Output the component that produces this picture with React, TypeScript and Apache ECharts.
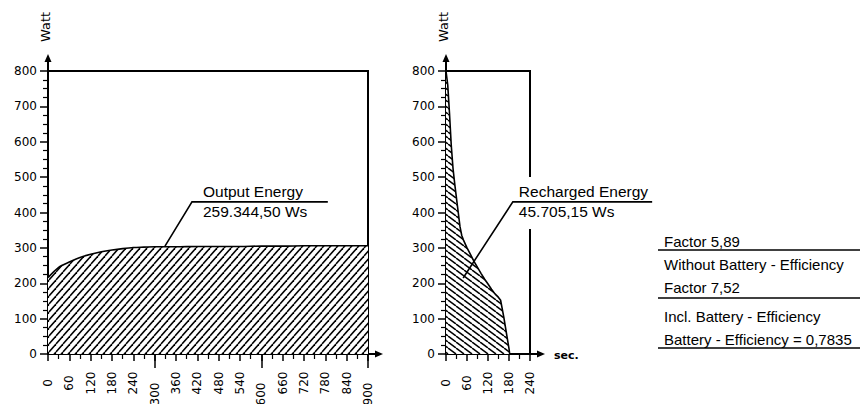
import React, { useEffect, useRef } from "react";
import * as echarts from "echarts";

// ---- data ----
const OUTPUT_SEC = [0, 30, 60, 90, 120, 150, 180, 210, 240, 270, 300, 360, 420, 480, 540, 600, 660, 720, 780, 840, 900];
const OUTPUT_WATT = [216, 245, 260, 273, 282, 289, 294, 298, 301, 302, 303, 303, 304, 304, 304, 305, 305, 306, 306, 306, 306];

const RECHARGE_SEC = [0, 5, 10, 15, 20, 25, 30, 35, 40, 45, 50, 60, 68, 80, 90, 100, 110, 120, 130, 140, 150, 156, 165, 175, 180, 182];
const RECHARGE_WATT = [800, 760, 680, 590, 525, 480, 440, 400, 360, 335, 322, 300, 285, 262, 245, 228, 212, 198, 183, 170, 160, 152, 105, 45, 15, 0];

const Y_TICK_LABELS_MAX = 800;
const OUTPUT_X_MAX = 900;
const RECHARGE_X_MAX = 240;
const MAJOR_X_LABELS = [300, 600, 900];

const Y_NAME = "Watt";
const X_UNIT = "sec.";
const OUTPUT_TITLE = "Output Energy";
const OUTPUT_VALUE = "259.344,50 Ws";
const RECHARGE_TITLE = "Recharged Energy";
const RECHARGE_VALUE = "45.705,15 Ws";
const SUMMARY_LINES = [
  "Factor 5,89",
  "Without Battery - Efficiency",
  "Factor 7,52",
  "Incl. Battery - Efficiency",
  "Battery - Efficiency = 0,7835",
];

// annotation anchors in data space [sec, watt]
const OUTPUT_NOTE = { tail: [329, 305], knee: [405, 430], end: [787, 430] };
const RECHARGE_NOTE = { tail: [49, 215], knee: [191, 430], end: [589, 430] };

const LABEL_FONT = "DejaVu Sans";
const NOTE_FONT = "Liberation Sans";

function hatch(w: number, h: number, ascending: boolean) {
  const c = document.createElement("canvas");
  c.width = w;
  c.height = h;
  const ctx = c.getContext("2d")!;
  ctx.fillStyle = "#fff";
  ctx.fillRect(0, 0, w, h);
  ctx.strokeStyle = "#000";
  ctx.lineWidth = 1.5;
  for (let k = -1; k <= 1; k++) {
    ctx.beginPath();
    if (ascending) {
      ctx.moveTo(k * w, h);
      ctx.lineTo(k * w + w, 0);
    } else {
      ctx.moveTo(k * w, 0);
      ctx.lineTo(k * w + w, h);
    }
    ctx.stroke();
  }
  return { image: c, repeat: "repeat", imageWidth: w, imageHeight: h } as any;
}

const axisLine = { show: true, lineStyle: { color: "#000", width: 2 } };

function yAxisCfg(gridIndex: number) {
  return {
    type: "value",
    gridIndex,
    min: 0,
    max: Y_TICK_LABELS_MAX,
    interval: 100,
    axisLine,
    axisTick: { show: true, length: 8, lineStyle: { color: "#000", width: 1.5 } },
    minorTick: { show: true, splitNumber: 4, length: 5, lineStyle: { color: "#000", width: 1.2 } },
    axisLabel: { margin: 11, color: "#000", fontFamily: LABEL_FONT, fontSize: 12 },
    splitLine: { show: false },
  };
}

function xAxisCfg(gridIndex: number, max: number, skipMajor: boolean) {
  return {
    type: "value",
    gridIndex,
    position: "bottom",
    min: 0,
    max,
    interval: 60,
    axisLine,
    axisTick: { show: true, length: 7, lineStyle: { color: "#000", width: 1.5 } },
    minorTick: { show: true, splitNumber: 2, length: 5, lineStyle: { color: "#000", width: 1.2 } },
    axisLabel: {
      rotate: 90,
      align: "center",
      verticalAlign: "middle",
      margin: 29,
      color: "#000",
      fontFamily: LABEL_FONT,
      fontSize: 12,
      formatter: (v: number) => (skipMajor && MAJOR_X_LABELS.includes(v) ? "" : String(v)),
    },
    splitLine: { show: false },
  };
}

export default function App() {
  const ref = useRef<HTMLDivElement>(null);

  useEffect(() => {
    const chart = echarts.init(ref.current!, null, { renderer: "svg" });
    const gridBase = {
      top: 71,
      height: 283,
      show: true,
      borderColor: "#000",
      borderWidth: 2,
      backgroundColor: "transparent",
      containLabel: false,
      outerBoundsMode: "none",
    };
    const option: any = {
      animation: false,
      backgroundColor: "#fff",
      grid: [
        { ...gridBase, left: 48, width: 320 },
        { ...gridBase, left: 446, width: 84 },
      ],
      xAxis: [
        xAxisCfg(0, OUTPUT_X_MAX, true),
        {
          type: "value",
          gridIndex: 0,
          position: "bottom",
          offset: 0,
          min: 0,
          max: OUTPUT_X_MAX,
          interval: 300,
          axisLine: { show: false },
          axisTick: { show: true, length: 14, customValues: MAJOR_X_LABELS, lineStyle: { color: "#000", width: 1.5 } },
          axisLabel: {
            customValues: MAJOR_X_LABELS,
            rotate: 90,
            align: "center",
            verticalAlign: "middle",
            margin: 40,
            color: "#000",
            fontFamily: LABEL_FONT,
            fontSize: 12,
            formatter: (v: number) => (v > 0 ? String(v) : ""),
          },
          splitLine: { show: false },
        },
        xAxisCfg(1, RECHARGE_X_MAX, false),
      ],
      yAxis: [yAxisCfg(0), yAxisCfg(1)],
      series: [
        {
          type: "line",
          xAxisIndex: 0,
          yAxisIndex: 0,
          data: OUTPUT_SEC.map((t, i) => [t, OUTPUT_WATT[i]]),
          symbol: "none",
          smooth: 0.3,
          lineStyle: { color: "#000", width: 1.6 },
          areaStyle: { color: hatch(7, 8, true), opacity: 1 },
          z: 3,
        },
        {
          type: "line",
          xAxisIndex: 2,
          yAxisIndex: 1,
          data: RECHARGE_SEC.map((t, i) => [t, RECHARGE_WATT[i]]),
          symbol: "none",
          lineStyle: { color: "#000", width: 1.6 },
          areaStyle: { color: hatch(8, 6, false), opacity: 1 },
          z: 3,
        },
      ],
    };
    chart.setOption(option);

    const px = (xi: number, yi: number, p: number[]) =>
      chart.convertToPixel({ xAxisIndex: xi, yAxisIndex: yi }, p) as number[];

    const elements: any[] = [];
    const black = "#000";

    const axisDecor = (xi: number, yi: number, xmax: number, withUnit: boolean) => {
      const top = px(xi, yi, [0, Y_TICK_LABELS_MAX]);
      const right = px(xi, yi, [xmax, 0]);
      elements.push({
        type: "line",
        z: 60,
        shape: { x1: top[0], y1: top[1], x2: top[0], y2: top[1] - 13 },
        style: { stroke: black, lineWidth: 2 },
      });
      elements.push({
        type: "polygon",
        z: 60,
        shape: { points: [[top[0], top[1] - 17], [top[0] - 3.5, top[1] - 9], [top[0] + 3.5, top[1] - 9]] },
        style: { fill: black },
      });
      elements.push({
        type: "line",
        z: 60,
        shape: { x1: right[0], y1: right[1], x2: right[0] + 11, y2: right[1] },
        style: { stroke: black, lineWidth: 2 },
      });
      elements.push({
        type: "polygon",
        z: 60,
        shape: { points: [[right[0] + 15, right[1]], [right[0] + 7, right[1] - 3.5], [right[0] + 7, right[1] + 3.5]] },
        style: { fill: black },
      });
      elements.push({
        type: "text",
        z: 60,
        x: top[0] - 3,
        y: top[1] - 44,
        rotation: Math.PI / 2,
        style: { text: Y_NAME, x: 0, y: 0, fill: black, fontFamily: LABEL_FONT, fontSize: 13, align: "center", verticalAlign: "middle" },
      });
      if (withUnit) {
        elements.push({
          type: "text",
          z: 60,
          style: {
            text: X_UNIT,
            x: right[0] + 24,
            y: right[1] + 1,
            fill: black,
            fontFamily: LABEL_FONT,
            fontSize: 11,
            fontWeight: "bold",
            align: "left",
            verticalAlign: "middle",
          },
        });
      }
    };
    axisDecor(0, 0, OUTPUT_X_MAX, false);
    axisDecor(2, 1, RECHARGE_X_MAX, true);

    const note = (xi: number, yi: number, a: any, title: string, value: string, textGap: number) => {
      const tl = px(xi, yi, a.tail);
      const kn = px(xi, yi, a.knee);
      const en = px(xi, yi, a.end);
      elements.push({
        type: "rect",
        z: 50,
        shape: { x: kn[0] + 3, y: kn[1] - 25, width: en[0] - kn[0] - 3, height: 52 },
        style: { fill: "#fff" },
      });
      elements.push({
        type: "polyline",
        z: 60,
        shape: { points: [tl, kn, en] },
        style: { stroke: black, lineWidth: 1.6, fill: null },
      });
      elements.push({
        type: "text",
        z: 60,
        style: { text: title, x: kn[0] + textGap, y: kn[1] - 2, fill: black, fontFamily: NOTE_FONT, fontSize: 15.5, align: "left", verticalAlign: "bottom" },
      });
      elements.push({
        type: "text",
        z: 60,
        style: { text: value, x: kn[0] + textGap, y: kn[1] + 2, fill: black, fontFamily: NOTE_FONT, fontSize: 15.5, align: "left", verticalAlign: "top" },
      });
    };
    note(0, 0, OUTPUT_NOTE, OUTPUT_TITLE, OUTPUT_VALUE, 11);
    note(2, 1, RECHARGE_NOTE, RECHARGE_TITLE, RECHARGE_VALUE, 6);

    // summary block on the right
    const sx = 664;
    const textYs = [241, 264, 287, 316, 339];
    SUMMARY_LINES.forEach((t, i) => {
      elements.push({
        type: "text",
        z: 60,
        style: { text: t, x: sx, y: textYs[i], fill: black, fontFamily: NOTE_FONT, fontSize: 15, align: "left", verticalAlign: "middle" },
      });
    });
    [250, 298, 348].forEach((y) => {
      elements.push({
        type: "line",
        z: 60,
        shape: { x1: 658, y1: y, x2: 860, y2: y },
        style: { stroke: black, lineWidth: 1.6 },
      });
    });

    chart.setOption({ graphic: { elements } });

    return () => chart.dispose();
  }, []);

  return (
    <div
      ref={ref}
      style={{ position: "fixed", left: 0, top: 0, width: 866, height: 404, background: "#fff" }}
    />
  );
}
